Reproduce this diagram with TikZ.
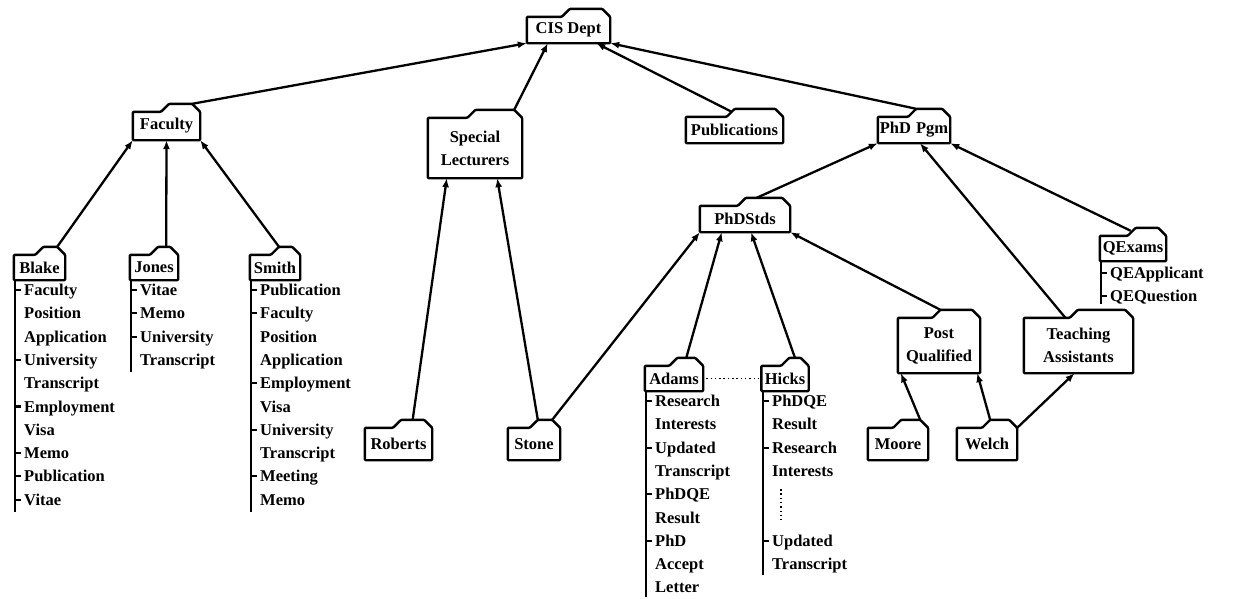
\documentclass[tikz,border=0pt]{standalone}
\usepackage{fontspec}
\setmainfont{Liberation Serif}
\usetikzlibrary{arrows.meta,calc}
\newcommand\fs{\fontsize{16.5}{23}\selectfont\bfseries}
\tikzset{
  box/.style={draw=none,inner sep=0pt,align=center,font=\fs},
  item/.style={anchor=base west,inner sep=0pt,font=\fs},
  link/.style={line width=2.3pt,-{Latex[length=9pt,width=7pt]}},
  fold/.style={line width=2.4pt,line join=round,rounded corners=1pt},
  lst/.style={line width=2.1pt},
  dotline/.style={line width=1.8pt,dash pattern=on 1.5pt off 2.8pt},
}
\newcommand\folder[1]{%
  \coordinate (#1-tl) at ($(#1.north west)!0.42!(#1.north east)+(8pt,8pt)$);
  \coordinate (#1-tr) at ($(#1.north east)+(-8pt,8pt)$);
  \draw[fold] (#1.south west) -- (#1.north west) -- ($(#1-tl)+(-8pt,-8pt)$) -- (#1-tl) -- (#1-tr) -- (#1.north east) -- (#1.south east) -- cycle;}
\newcommand\itemlist[5]{%
  \draw[lst] (#1.south west -| #2,0) -- (#2,#4);
  \foreach \txt/\tk [count=\i] in {#5} {
    \pgfmathsetmacro\yy{#3+(\i-1)*23.3}
    \node[item] (#1-\i) at (#2+9,\yy+5.5) {\txt};
    \ifnum\tk=1 \draw[lst] (#2,\yy) -- (#2+6,\yy);\fi
  }}
\begin{document}
\begin{tikzpicture}[x=1pt,y=-1pt]
\useasboundingbox (0,0) rectangle (1258,598);
% boxes
\node[box,minimum width=83pt,minimum height=26pt] (cis) at (568.5,30) {CIS Dept};
\node[box,minimum width=67pt,minimum height=28pt] (fac) at (166.5,126) {Faculty};
\node[box,minimum width=94pt,minimum height=60pt] (spec) at (475,148) {Special\\Lecturers};
\node[box,minimum width=97pt,minimum height=26pt] (pub) at (734.5,130) {Publications};
\node[box,minimum width=72pt,minimum height=26pt] (phd) at (914,130) {PhD\hspace{5pt}Pgm};
\node[box,minimum width=51pt,minimum height=25pt] (blake) at (39.5,267.5) {Blake};
\node[box,minimum width=48pt,minimum height=25pt] (jones) at (154,267.5) {Jones};
\node[box,minimum width=50pt,minimum height=25pt] (smith) at (275,267.5) {Smith};
\node[box,minimum width=90pt,minimum height=26pt] (phdstds) at (745,219) {PhDStds};
\node[box,minimum width=66pt,minimum height=25pt] (qexams) at (1133,248.5) {QExams};
\node[box,minimum width=58pt,minimum height=25pt] (adams) at (674,378.5) {Adams};
\node[box,minimum width=47pt,minimum height=25pt] (hicks) at (785,378.5) {Hicks};
\node[box,minimum width=82pt,minimum height=55pt] (postq) at (939,345.5) {Post\\Qualified};
\node[box,minimum width=109pt,minimum height=55pt] (teach) at (1078.5,345.5) {Teaching\\Assistants};
\node[box,minimum width=67pt,minimum height=32pt] (roberts) at (398.5,444) {Roberts};
\node[box,minimum width=52pt,minimum height=32pt] (stone) at (534,444) {Stone};
\node[box,minimum width=60pt,minimum height=32pt] (moore) at (898,444) {Moore};
\node[box,minimum width=60pt,minimum height=32pt] (welch) at (987,444) {Welch};
\foreach \n in {cis,fac,spec,pub,phd,blake,jones,smith,phdstds,qexams,adams,hicks,postq,teach,roberts,stone,moore,welch} {\folder{\n}}
% connectors
\draw[link] (fac-tr) -- (cis.south west);
\draw[link] (spec-tr) -- ($(cis.south west)+(21pt,0)$);
\draw[link] ($(pub-tl)+(-3pt,-3pt)$) -- ($(cis.south east)+(-14pt,0)$);
\draw[link] (phd-tl) -- (cis.south east);
\draw[link] (blake-tr) -- (fac.south west);
\draw[link] ($(jones-tr)+(-4pt,0)$) -- (fac.south);
\draw[link] (smith-tl) -- (fac.south east);
\draw[link] ($(roberts-tl)!0.5!(roberts-tr)$) -- ($(spec.south west)+(19pt,0)$);
\draw[link] (stone-tl) -- ($(spec.south east)+(-25pt,0)$);
\draw[link] (stone-tr) -- (phdstds.south west);
\draw[link] ($(phdstds-tl)!0.3!(phdstds-tr)$) -- (phd.south west);
\draw[link] ($(teach.north west)!0.38!(teach.north east)$) -- ($(phd.south)+(6pt,0)$);
\draw[link] ($(qexams-tl)+(-5pt,-3pt)$) -- (phd.south east);
\draw[link] ($(adams-tl)!0.5!(adams-tr)$) -- ($(phdstds.south west)+(22pt,0)$);
\draw[link] ($(hicks-tl)!0.5!(hicks-tr)$) -- ($(phdstds.south)+(6pt,0)$);
\draw[link] (postq-tl) -- (phdstds.south east);
\draw[link] (moore-tr) -- ($(postq.south west)+(3pt,0)$);
\draw[link] (welch-tl) -- ($(postq.south east)+(-3pt,0)$);
\draw[link] (welch.north east) -- ($(teach.south)+(-4pt,0)$);
\draw[dotline,shorten <=3pt,shorten >=3pt] (adams.east) -- (hicks.west);
% lists
\itemlist{blake}{15}{290}{512}{Faculty/1,Position/0,Application/0,University/1,Transcript/0,Employment/1,Visa/0,Memo/1,Publication/1,Vitae/1}
\itemlist{jones}{131}{290}{372}{Vitae/1,Memo/1,University/1,Transcript/0}
\itemlist{smith}{251}{290}{512}{Publication/1,Faculty/1,Position/0,Application/0,Employment/1,Visa/0,University/1,Transcript/0,Meeting/1,Memo/0}
\itemlist{adams}{646}{401}{597}{Research/1,Interests/0,Updated/1,Transcript/0,PhDQE/1,Result/0,PhD/1,Accept/0,Letter/0}
\itemlist{hicks}{763}{401}{575}{PhDQE/1,Result/0,Research/1,Interests/0}
\node[item] (hicks-7) at (772,546.3) {Updated};
\node[item] (hicks-8) at (772,569.6) {Transcript};
\draw[lst] (763,540.8) -- (769,540.8);
\draw[dotline] (781,489) -- (781,520);
\itemlist{qexams}{1101}{273}{304}{QEApplicant/1,QEQuestion/1}
\end{tikzpicture}
\end{document}
